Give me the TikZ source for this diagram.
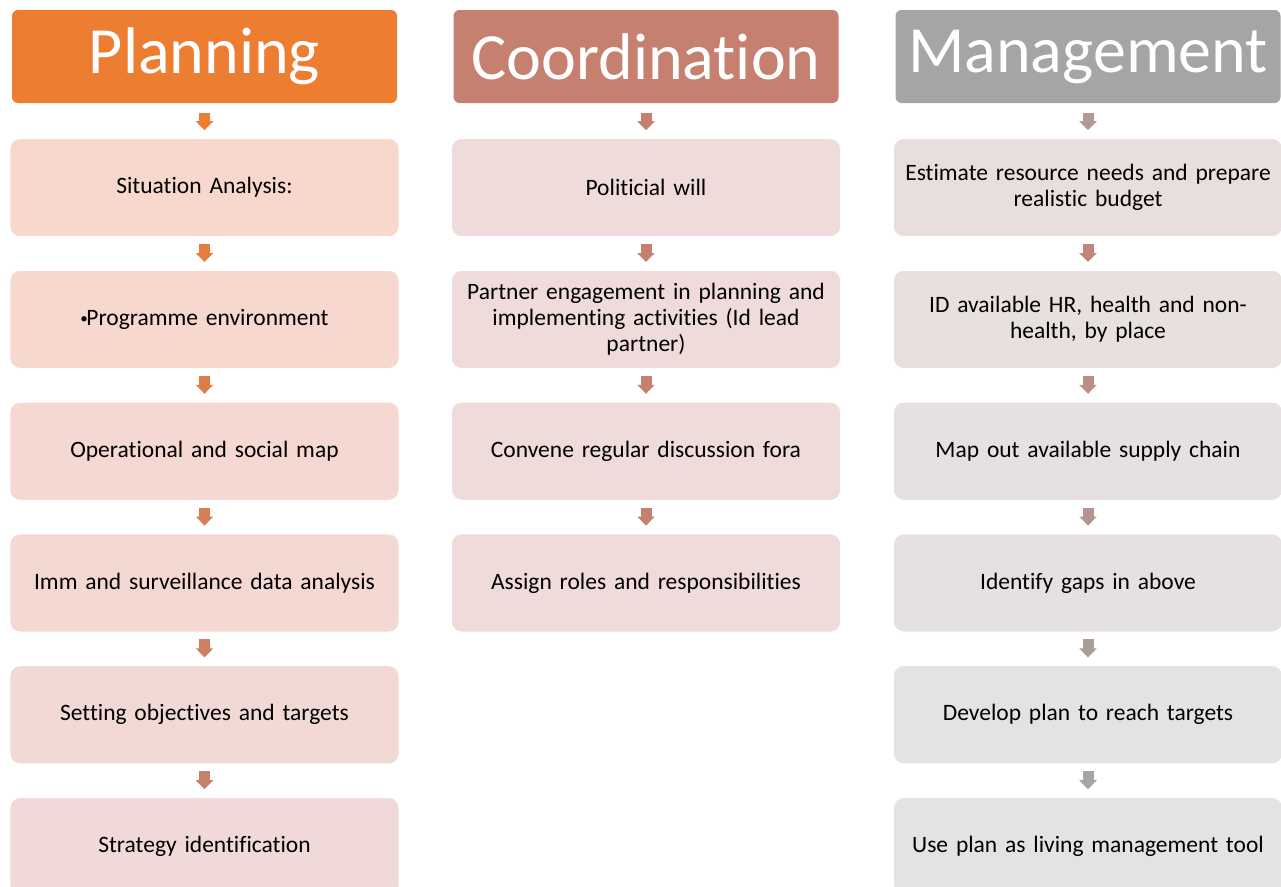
\documentclass[tikz,border=0pt]{standalone}
\usepackage{fontspec}
\setmainfont{Carlito}[Ligatures={NoCommon}]
\usetikzlibrary{positioning}
\usetikzlibrary{arrows.meta}

\definecolor{planorange}{HTML}{ED7D31}
\definecolor{coordrose}{HTML}{C5806F}
\definecolor{mangrey}{HTML}{A5A5A5}
\definecolor{planpale}{HTML}{F8D8CD}
\definecolor{planpink}{HTML}{F0D9D6}
\definecolor{coordpale}{HTML}{EFDBD9}
\definecolor{manpale}{HTML}{E9DEDE}
\definecolor{mangray}{HTML}{E3E3E3}

\newcommand{\smallbullet}{{\fontsize{15}{26}\selectfont\raisebox{1.5pt}{•}}\hspace{-1.5pt}}

\begin{document}
\begin{tikzpicture}[
    headbox/.style={rectangle, rounded corners=6pt, text=white, minimum width=385pt, minimum height=93pt, font=\fontsize{66}{72}\selectfont},
    stepbox/.style={rectangle, rounded corners=10pt, draw=white, line width=0.8pt, inner xsep=9.5pt, text width=370pt, align=center, minimum height=98pt, font=\fontsize{23.5}{26}\selectfont},
    flowarrow/.style={line width=11pt, -{Triangle[width=17pt, length=9pt]}, shorten <=7pt, shorten >=8pt},
    headarrow/.style={flowarrow, shorten <=10pt}]
    \clip (0,0) rectangle (1281pt,-886pt);

    % column headers
    \node[headbox, fill=planorange] (plan) at (204.5pt,-56.5pt) {Planning};
    \node[headbox, fill=coordrose] (coord) at (646pt,-56.5pt) {Coordination};
    \node[headbox, fill=mangrey] (man) at (1088pt,-56.5pt) {Management};

    % planning steps
    \node[stepbox, fill=planpale] (plan1) [below=35pt of plan] {Situation Analysis:};
    \node[stepbox, fill=planpink!20!planpale] (plan2) [below=33pt of plan1] {\smallbullet Programme environment};
    \node[stepbox, fill=planpink!40!planpale] (plan3) [below=33pt of plan2] {Operational and social map};
    \node[stepbox, fill=planpink!60!planpale] (plan4) [below=33pt of plan3] {Imm and surveillance data analysis};
    \node[stepbox, fill=planpink!80!planpale] (plan5) [below=33pt of plan4] {Setting objectives and targets};
    \node[stepbox, fill=planpink] (plan6) [below=33pt of plan5] {Strategy identification};

    % coordination steps
    \node[stepbox, fill=coordpale] (coord1) [below=35pt of coord] {Politicial will};
    \node[stepbox, fill=coordpale] (coord2) [below=33pt of coord1] {Partner engagement in planning and\\implementing activities (Id lead\\partner)};
    \node[stepbox, fill=coordpale] (coord3) [below=33pt of coord2] {Convene regular discussion fora};
    \node[stepbox, fill=coordpale] (coord4) [below=33pt of coord3] {Assign roles and responsibilities};

    % management steps
    \node[stepbox, fill=manpale] (man1) [below=35pt of man] {Estimate resource needs and prepare\\realistic budget};
    \node[stepbox, fill=mangray!20!manpale] (man2) [below=33pt of man1] {ID available HR, health and non-\\health, by place};
    \node[stepbox, fill=mangray!40!manpale] (man3) [below=33pt of man2] {Map out available supply chain};
    \node[stepbox, fill=mangray!60!manpale] (man4) [below=33pt of man3] {Identify gaps in above};
    \node[stepbox, fill=mangray!80!manpale] (man5) [below=33pt of man4] {Develop plan to reach targets};
    \node[stepbox, fill=mangray] (man6) [below=33pt of man5] {Use plan as living management tool};

    % arrows between steps
    \draw[headarrow, color=planorange] (plan) -- (plan1);
    \draw[headarrow, color=coordrose] (coord) -- (coord1);
    \draw[headarrow, color=mangrey!70!coordrose] (man) -- (man1);
    \foreach \i/\j/\m in {1/2/20, 2/3/40, 3/4/60, 4/5/80, 5/6/100} {
        \draw[flowarrow, color=coordrose!\m!planorange] (plan\i) -- (plan\j);
        \draw[flowarrow, color=mangrey!\m!coordrose] (man\i) -- (man\j);
    }
    \foreach \i/\j in {1/2, 2/3, 3/4}
        \draw[flowarrow, color=coordrose] (coord\i) -- (coord\j);
\end{tikzpicture}
\end{document}
